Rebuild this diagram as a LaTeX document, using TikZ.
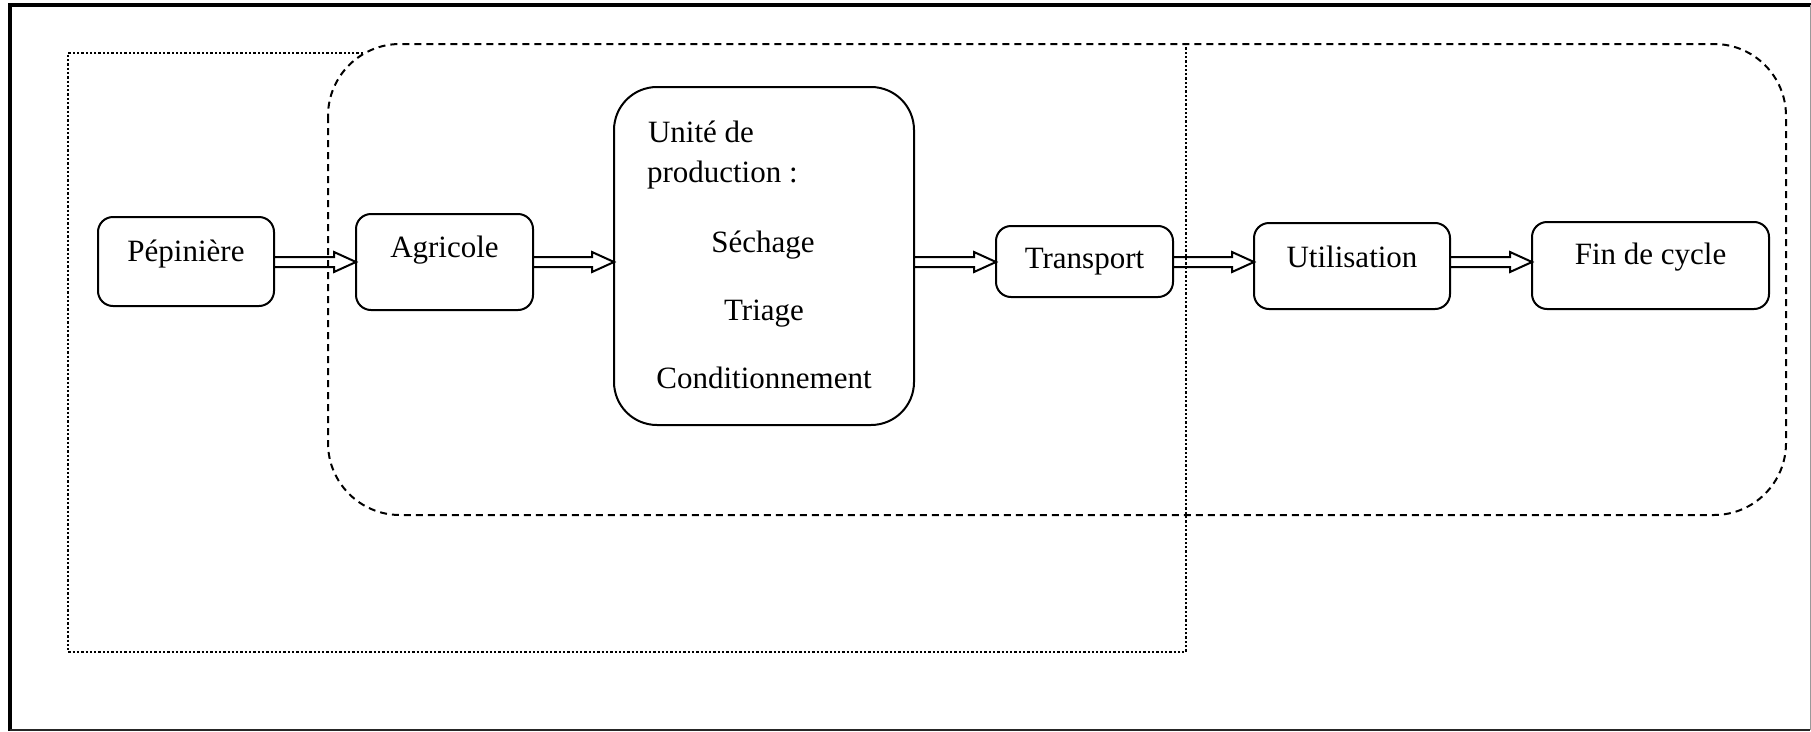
\documentclass[tikz,border=0pt]{standalone}
\usepackage{fontspec}
\setmainfont{Liberation Serif}
\usetikzlibrary{calc}

% Block arrow with a double shaft and an open head, drawn along the flow axis
\newcommand\flowarrow[2]{%
  \path (#1.east |- axis) coordinate (fs) (#2.west |- axis) coordinate (fe);
  \draw[flowline] ($(fs)+(0,-5)$) -- ($(fe)+(-22,-5)$) -- ($(fe)+(-22,-10)$)
    -- (fe) -- ($(fe)+(-22,10)$) -- ($(fe)+(-22,5)$) -- ($(fs)+(0,5)$);
}

\begin{document}
\begin{tikzpicture}[x=1pt,y=-1pt,
  every node/.style={font=\fontsize{31}{37}\selectfont, inner sep=0pt, outer sep=0pt},
  stage/.style={draw, line width=2pt, rounded corners=15pt, align=center},
  bigstage/.style={draw, line width=2pt, rounded corners=43pt},
  flowline/.style={line width=2pt, line join=miter},
  scopeline/.style={line width=2pt, dash pattern=on 7pt off 5pt},
  zoneline/.style={line width=2.3pt, dash pattern=on 2.3pt off 2pt},
]
\useasboundingbox (0,0) rectangle (1811,731);

% page frame
\draw[line width=4pt] (10.3,731) -- (10.3,5.3) -- (1811,5.3);
\draw[line width=1.2pt, black!40] (1810.3,5.3) -- (1810.3,729.5);
\draw[line width=2pt, black!85] (10.3,729.5) -- (1810.3,729.5);

\coordinate (axis) at (0,262);

% stages of the chain
\node[stage, minimum width=176pt, text height=44pt, text depth=45pt, anchor=base]
  (pep) at (186,261) {Pépinière};
\node[stage, minimum width=177pt, text height=43pt, text depth=53pt, anchor=base]
  (agr) at (444.5,257) {Agricole};
\node[bigstage, minimum width=300pt, minimum height=338pt]
  (unit) at (764,256) {};
\node[anchor=base west] (unitA) at (648,142) {Unité de};
\node[anchor=base west] (unitB) at (647,182) {production :};
\node[anchor=base] (unitC) at (763,252) {Séchage};
\node[anchor=base] (unitD) at (764,320) {Triage};
\node[anchor=base] (unitE) at (764,388) {Conditionnement};
\node[stage, minimum width=177pt, text height=42pt, text depth=29pt, anchor=base]
  (tra) at (1084.5,268) {Transport};
\node[stage, minimum width=196pt, text height=44pt, text depth=42pt, anchor=base]
  (uti) at (1352,267) {Utilisation};
\node[stage, minimum width=237pt, text height=42pt, text depth=45pt, anchor=base]
  (fin) at (1650.5,264) {Fin de cycle};

% flows
\flowarrow{pep}{agr}
\flowarrow{agr}{unit}
\flowarrow{unit}{tra}
\flowarrow{tra}{uti}
\flowarrow{uti}{fin}

% dotted zone
\draw[zoneline] (363,53) -- (68,53) -- (68,652) -- (1186,652) -- (1186,44);

% dashed scope
\draw[scopeline, rounded corners=72pt] (328,44) rectangle (1786,515);
\end{tikzpicture}
\end{document}
